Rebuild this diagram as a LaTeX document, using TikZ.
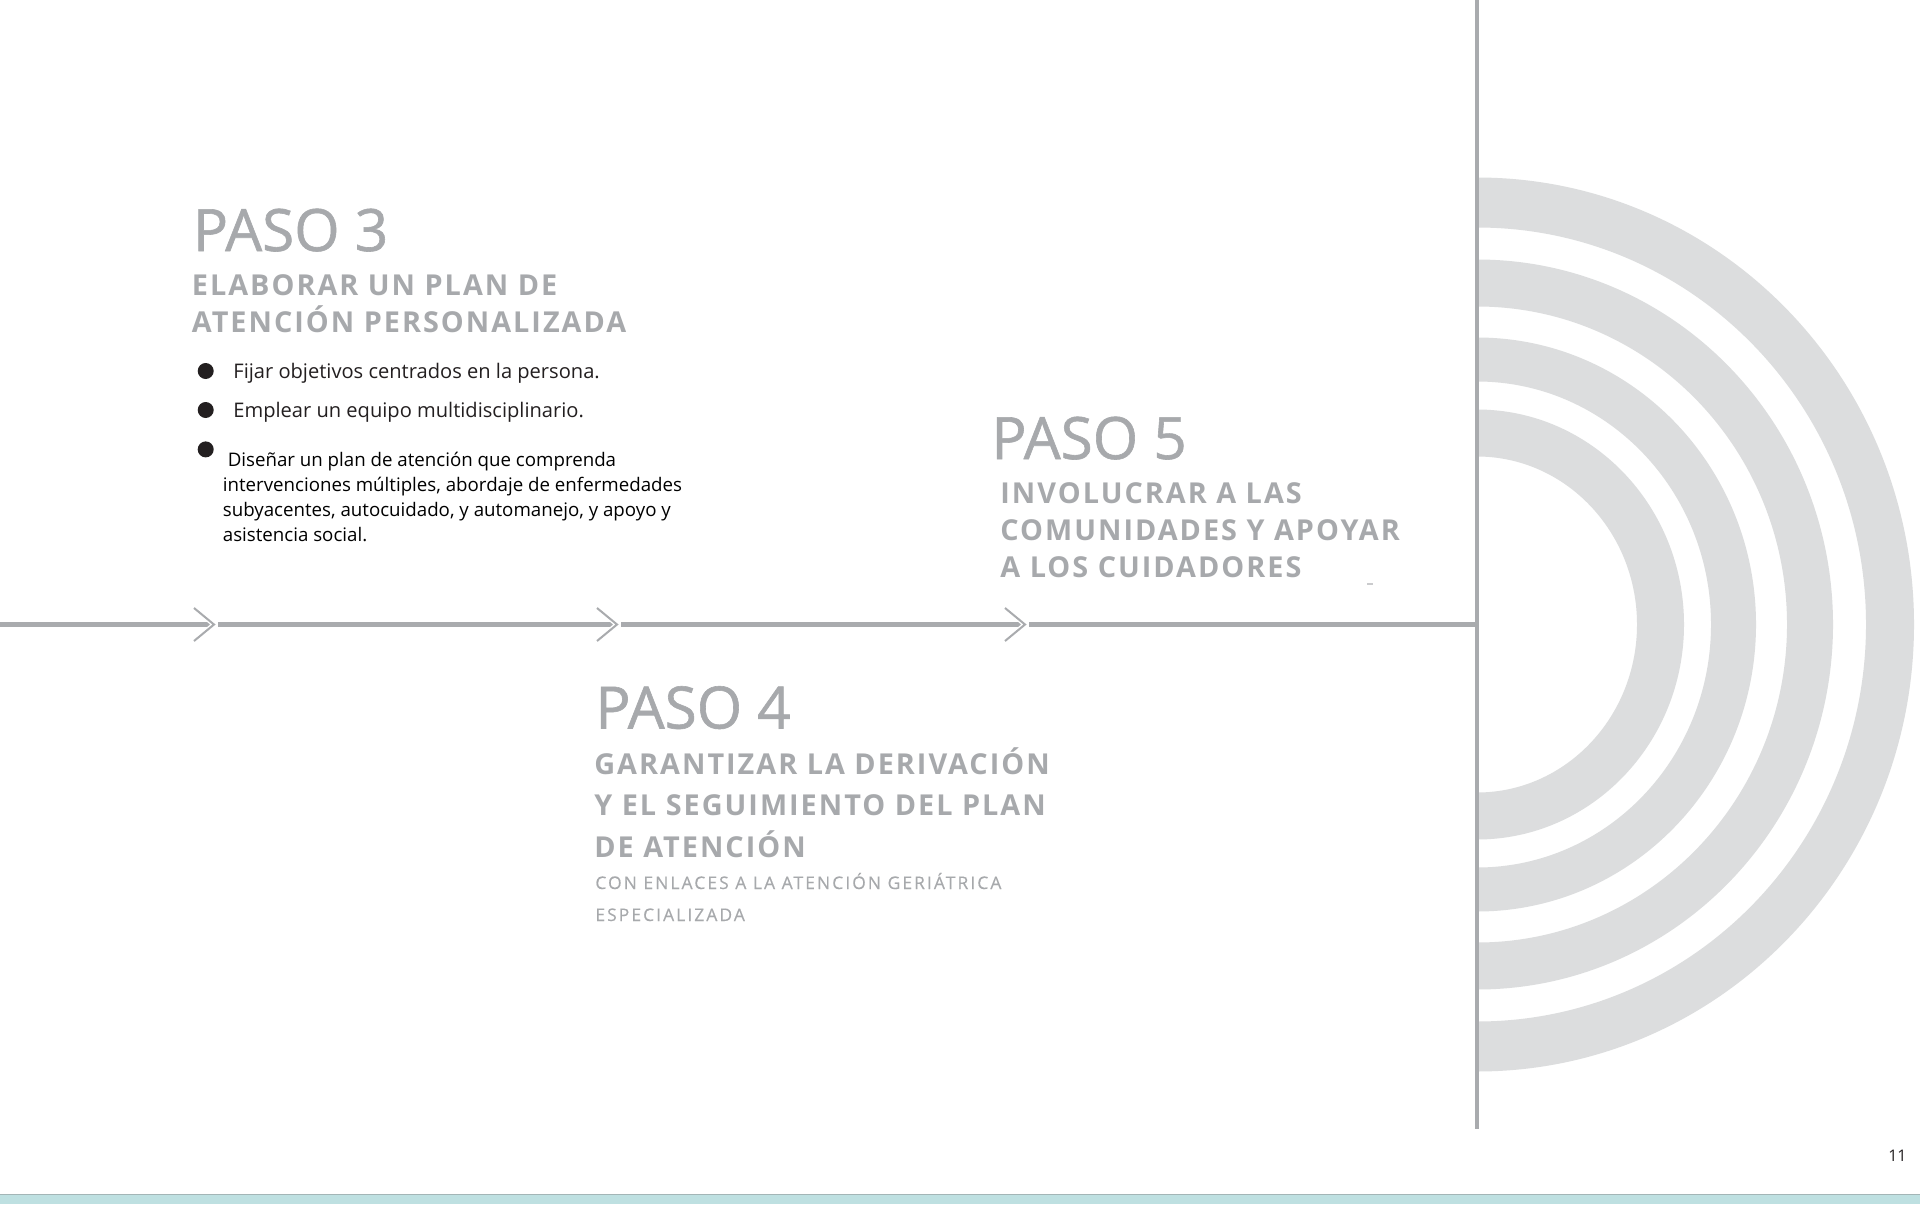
\documentclass[tikz,border=0pt]{standalone}
\usepackage{fontspec}
\setmainfont{Open Sans}
\newfontfamily\headfont{Open Sans}[FakeBold=1]
\newfontfamily\subfont{Open Sans}[LetterSpace=7]
\newfontfamily\smallfont{Open Sans}[LetterSpace=12, FakeBold=0.3]
\definecolor{txtgray}{HTML}{A7A9AC}
\definecolor{arcgray}{HTML}{DCDDDE}
\definecolor{linegray}{HTML}{A9ABAE}
\definecolor{darktxt}{HTML}{231F20}
\definecolor{band}{HTML}{BEE0E1}
\definecolor{bandline}{HTML}{A3B5B6}
\tikzset{
  head/.style={inner sep=0pt, anchor=base west, text=txtgray, font=\headfont\fontsize{29.2}{30}\selectfont},
  subhead/.style={inner sep=0pt, anchor=base west, text=txtgray, font=\subfont\bfseries\fontsize{14.4}{16}\selectfont},
  smalltxt/.style={inner sep=0pt, anchor=base west, text=txtgray, font=\smallfont\fontsize{8.7}{10}\selectfont},
  bultxt/.style={inner sep=0pt, anchor=base west, text=darktxt, font=\fontsize{10.05}{12}\selectfont},
  bultxtb/.style={inner sep=0pt, anchor=base west, text=black, font=\fontsize{9.35}{12}\selectfont},
  bulletdot/.style={circle, fill=darktxt, draw=none, inner sep=0pt, minimum size=8pt},
  tline/.style={draw=linegray, line width=2.6pt},
  chevhalo/.style={draw=white, line width=2.4pt, line join=miter},
  chev/.style={draw=linegray, line width=1pt, line join=miter},
}
\begin{document}
\begin{tikzpicture}[x=0.5pt,y=-0.5pt]
\useasboundingbox (0,0) rectangle (1920,1204);
\fill[white] (0,0) rectangle (1920,1204);

% concentric half rings
\begin{scope}
\clip (1477,0) rectangle (1920,1204);
\fill[arcgray, even odd rule] (1477,624.5) ellipse [x radius=437, y radius=447] (1477,624.5) ellipse [x radius=389, y radius=397];
\fill[arcgray, even odd rule] (1477,624.5) ellipse [x radius=356, y radius=365] (1477,624.5) ellipse [x radius=310, y radius=318];
\fill[arcgray, even odd rule] (1477,624.5) ellipse [x radius=279, y radius=287] (1477,624.5) ellipse [x radius=234, y radius=243];
\fill[arcgray, even odd rule] (1477,624.5) ellipse [x radius=207, y radius=215] (1477,624.5) ellipse [x radius=160, y radius=168];
\end{scope}

% vertical bar
\coordinate (vtop) at (1477,0);
\coordinate (vbot) at (1477,1129);
\draw[linegray, line width=2.3pt] (vtop) -- (vbot);

% timeline
\coordinate (t0) at (0,624.5);
\coordinate (c1) at (213,624.5);
\coordinate (d1) at (218,624.5);
\coordinate (c2) at (616,624.5);
\coordinate (d2) at (621,624.5);
\coordinate (c3) at (1024,624.5);
\coordinate (d3) at (1029,624.5);
\coordinate (tend) at (1476,624.5);
\draw[tline] (t0) -- (c1);
\draw[tline] (d1) -- (c2);
\draw[tline] (d2) -- (c3);
\draw[tline] (d3) -- (tend);
\foreach \c in {c1,c2,c3}{
  \draw[chevhalo] ([shift={(-19,-16.5)}]\c) -- ([shift={(1,0)}]\c) -- ([shift={(-19,16.5)}]\c);
  \draw[chev] ([shift={(-19,-16.5)}]\c) -- ([shift={(1,0)}]\c) -- ([shift={(-19,16.5)}]\c);
}

% PASO 3
\node[head] (p3) at (192.5,251) {PASO 3};
\node[subhead] (p3a) at (191.5,295) {ELABORAR UN PLAN DE};
\node[subhead] (p3b) at (191.5,332) {ATENCIÓN PERSONALIZADA};
\node[bulletdot] (b1) at (205.7,371) {};
\node[bulletdot] (b2) at (205.7,410) {};
\node[bulletdot] (b3) at (205.7,449.4) {};
\node[bultxt] (l1) at (233,378) {Fijar objetivos centrados en la persona.};
\node[bultxt] (l2) at (233,417.5) {Emplear un equipo multidisciplinario.};
\node[bultxtb] (l3a) at (222.5,466.5) {\ Diseñar un plan de atención que comprenda};
\node[bultxtb] (l3b) at (222.5,491.5) {intervenciones múltiples, abordaje de enfermedades};
\node[bultxtb] (l3c) at (222.5,516.5) {subyacentes, autocuidado, y automanejo, y apoyo y};
\node[bultxtb] (l3d) at (222.5,541.5) {asistencia social.};

% PASO 5
\node[head] (p5) at (991,459) {PASO 5};
\node[subhead] (p5a) at (1000,503) {INVOLUCRAR A LAS};
\node[subhead] (p5b) at (1000,540) {COMUNIDADES Y APOYAR};
\node[subhead] (p5c) at (1000,577) {A LOS CUIDADORES};
\coordinate (m1) at (1367,583.7);
\coordinate (m2) at (1373,583.7);
\draw[txtgray!60, line width=0.8pt] (m1) -- (m2);

% PASO 4
\node[head] (p4) at (595,728.5) {PASO 4};
\node[subhead] (p4a) at (594,774) {GARANTIZAR LA DERIVACIÓN};
\node[subhead] (p4b) at (594,815.5) {Y EL SEGUIMIENTO DEL PLAN};
\node[subhead] (p4c) at (594,857) {DE ATENCIÓN};
\node[smalltxt] (p4d) at (595,889) {CON ENLACES A LA ATENCIÓN GERIÁTRICA};
\node[smalltxt] (p4e) at (595,921) {ESPECIALIZADA};

% page number
\node[inner sep=0pt, anchor=base east, text=darktxt, font=\fontsize{8}{10}\selectfont] (pg) at (1907,1161) {11};

% bottom band
\fill[band] (0,1194.5) rectangle (1920,1204);
\coordinate (bl) at (0,1194.3);
\coordinate (br) at (1920,1194.3);
\draw[bandline, line width=0.8pt] (bl) -- (br);
\end{tikzpicture}
\end{document}
